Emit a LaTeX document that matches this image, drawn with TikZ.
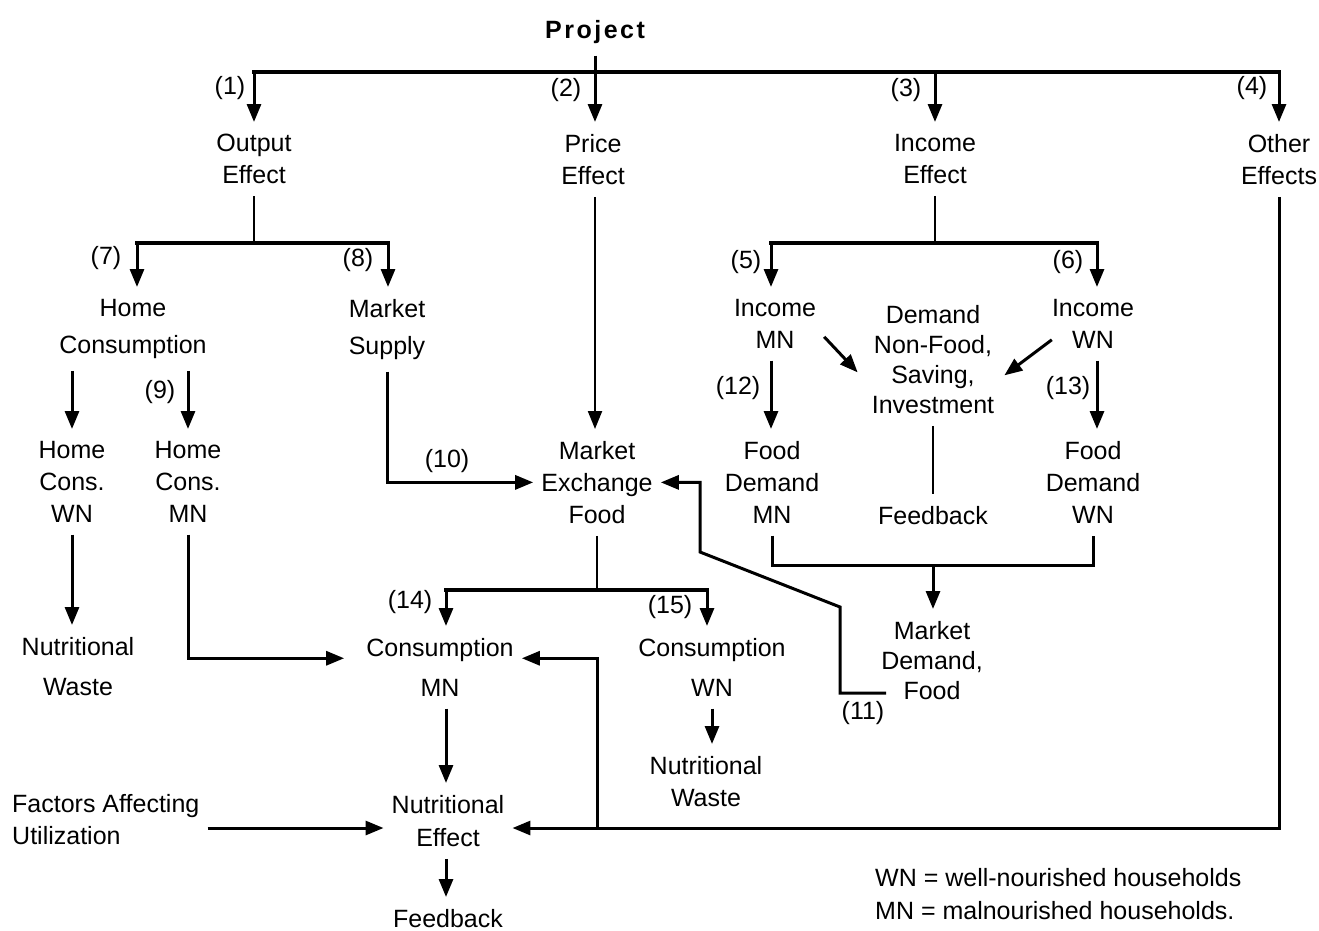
\documentclass[tikz,border=0pt]{standalone}
\usepackage{fontspec}
\setmainfont{Liberation Sans}
\usetikzlibrary{arrows.meta}
\begin{document}
\begin{tikzpicture}[x=1pt,y=-1pt,
  font=\fontsize{25}{32}\selectfont,
  lbl/.style={inner sep=0pt},
  tx/.style={align=center, anchor=north, inner xsep=8pt, inner ysep=12pt},
  ln/.style={line width=3pt},
  thinln/.style={line width=2.2pt},
  arr/.style={line width=3pt, -{Triangle[length=18pt,width=14pt]}},
  thinarr/.style={line width=2.2pt, -{Triangle[length=18pt,width=14pt]}},
  bar/.style={line width=3.3pt, line cap=rect}]
\useasboundingbox (0,0) rectangle (1319,930);

% ---------- nodes ----------
\node[tx, font=\fontsize{25}{32}\selectfont\bfseries\addfontfeature{LetterSpace=10}] (proj) at (595,8) {Project};
\node[tx] (outE) at (254,122) {Output\\Effect};
\node[tx] (priE) at (593,122) {Price\\Effect};
\node[tx] (incE) at (935,122) {Income\\Effect};
\node[tx] (othE) at (1279,122) {Other\\Effects};

\node[tx] (homeC) at (133,287) {Home\\[5pt]Consumption};
\node[tx] (mktS) at (387,287) {Market\\[5pt]Supply};
\node[tx] (hcWN) at (72,429) {Home\\Cons.\\WN};
\node[tx] (hcMN) at (188,429) {Home\\Cons.\\MN};
\node[tx] (mef) at (597,429) {Market\\Exchange\\Food};
\node[tx] (nwL) at (78,625) {Nutritional\\[8pt]Waste};
\node[tx] (conMN) at (440,626) {Consumption\\[8pt]MN};
\node[tx] (conWN) at (712,626) {Consumption\\[8pt]WN};
\node[tx] (nwR) at (706,744) {Nutritional\\Waste};
\node[tx] (nutE) at (448,783) {Nutritional\\[1pt]Effect};
\node[tx] (fb1) at (448,897) {Feedback};
\node[tx, anchor=north west, align=left] (fac) at (4,782) {Factors Affecting\\Utilization};

\node[tx] (incMN) at (775,287) {Income\\MN};
\node[tx] (incWN) at (1093,287) {Income\\WN};
\node[tx] (dem) at (933,293) {Demand\\[-2pt]Non-Food,\\[-2pt]Saving,\\[-2pt]Investment};
\node[tx] (fdMN) at (772,429) {Food\\Demand\\MN};
\node[tx] (fdWN) at (1093,429) {Food\\Demand\\WN};
\node[tx] (fb2) at (933,494) {Feedback};
\node[tx] (mdf) at (932,609) {Market\\[-2pt]Demand,\\[-2pt]Food};

\node[anchor=north west, align=left, inner sep=0pt, font=\fontsize{25}{33}\selectfont] (leg) at (875,868)
  {WN = well-nourished households\\MN = malnourished households.};

% ---------- labels ----------
\node[lbl] (l1) at (230,88) {(1)};
\node[lbl] (l2) at (566,90) {(2)};
\node[lbl] (l3) at (906,90) {(3)};
\node[lbl] (l4) at (1252,88) {(4)};
\node[lbl] (l7) at (106,258) {(7)};
\node[lbl] (l8) at (358,260) {(8)};
\node[lbl] (l5) at (746,262) {(5)};
\node[lbl] (l6) at (1068,262) {(6)};
\node[lbl] (l9) at (160,392) {(9)};
\node[lbl] (l12) at (738,388) {(12)};
\node[lbl] (l13) at (1068,388) {(13)};
\node[lbl] (l10) at (447,461) {(10)};
\node[lbl] (l14) at (410,602) {(14)};
\node[lbl] (l15) at (670,607) {(15)};
\node[lbl] (l11) at (863,713) {(11)};

% ---------- junction coordinates ----------
\coordinate (j1) at (254,72);
\coordinate (j3) at (935,72);
\coordinate (j4) at (1279,72);
\coordinate (jO) at (254,243);
\coordinate (j7) at (137,243);
\coordinate (j8) at (388,243);
\coordinate (jI) at (935,243);
\coordinate (j5) at (771,243);
\coordinate (j6) at (1097,243);
\coordinate (jM) at (597,590);
\coordinate (j14) at (446,590);
\coordinate (j15) at (707,590);
\coordinate (jB) at (597,828);
\coordinate (jD) at (933,565);
\coordinate (c11) at (886,693);
\coordinate (b11a) at (840,693);
\coordinate (b11b) at (840,607);
\coordinate (b11c) at (700,552);

% ---------- connectors ----------
\draw[bar] (j1) -- (j4);
\draw[arr] (proj.south) -- (proj.south |- priE.north);
\draw[arr] (j1) -- (outE.north);
\draw[arr] (j3) -- (incE.north);
\draw[arr] (j4) -- (othE.north);

\draw[thinln] (outE.south) -- (jO);
\draw[bar] (j7) -- (j8);
\draw[arr] (j7) -- (j7 |- homeC.north);
\draw[arr] (j8) -- (j8 |- mktS.north);

\draw[arr] (homeC.south -| hcWN) -- (hcWN.north);
\draw[arr] (homeC.south -| hcMN) -- (hcMN.north);
\draw[arr] (hcWN.south) -- (hcWN.south |- nwL.north);
\draw[arr] (hcMN.south) |- ([xshift=-14pt,yshift=9pt]conMN.west);

\draw[arr] (mktS.south) |- (mef.west);
\draw[thinarr] (priE.south -| proj.south) -- (proj.south |- mef.north);

\draw[thinln] (mef.south) -- (jM);
\draw[bar] (j14) -- (j15);
\draw[arr] (j14) -- (j14 |- conMN.north);
\draw[arr] (j15) -- (j15 |- conWN.north);
\draw[arr] (conWN.south) -- (conWN.south |- nwR.north);
\draw[arr] (conMN.south -| j14) -- (j14 |- nutE.north);
\draw[arr] (nutE.south -| j14) -- (j14 |- fb1.north);
\draw[arr] (fac.east |- jB) -- (nutE.west |- jB);

\draw[arr] (othE.south) |- (nutE.east |- jB);
\draw[arr] (jB) |- ([yshift=9pt]conMN.east);

\draw[thinln] (incE.south) -- (jI);
\draw[bar] (j5) -- (j6);
\draw[arr] (j5) -- (j5 |- incMN.north);
\draw[arr] (j6) -- (j6 |- incWN.north);
\draw[arr] ([yshift=-13pt]incMN.east) -- ([shift={(-6pt,-13pt)}]dem.west);
\draw[arr] ([shift={(8pt,-16pt)}]incWN.west) -- ([shift={(2pt,-16pt)}]dem.east);
\draw[arr] (incMN.south -| j5) -- (j5 |- fdMN.north);
\draw[arr] (incWN.south -| j6) -- (j6 |- fdWN.north);
\draw[thinln] (dem.south) -- (fb2.north);
\draw[ln] (fdMN.south) -- (fdMN.south |- jD) -- (fdWN.south |- jD) -- (fdWN.south);
\draw[arr] (jD) -- (jD |- mdf.north);
\draw[arr] (c11) -- (b11a) -- (b11b) -- (b11c) -- (b11c |- mef.east) -- (mef.east);
\end{tikzpicture}
\end{document}
